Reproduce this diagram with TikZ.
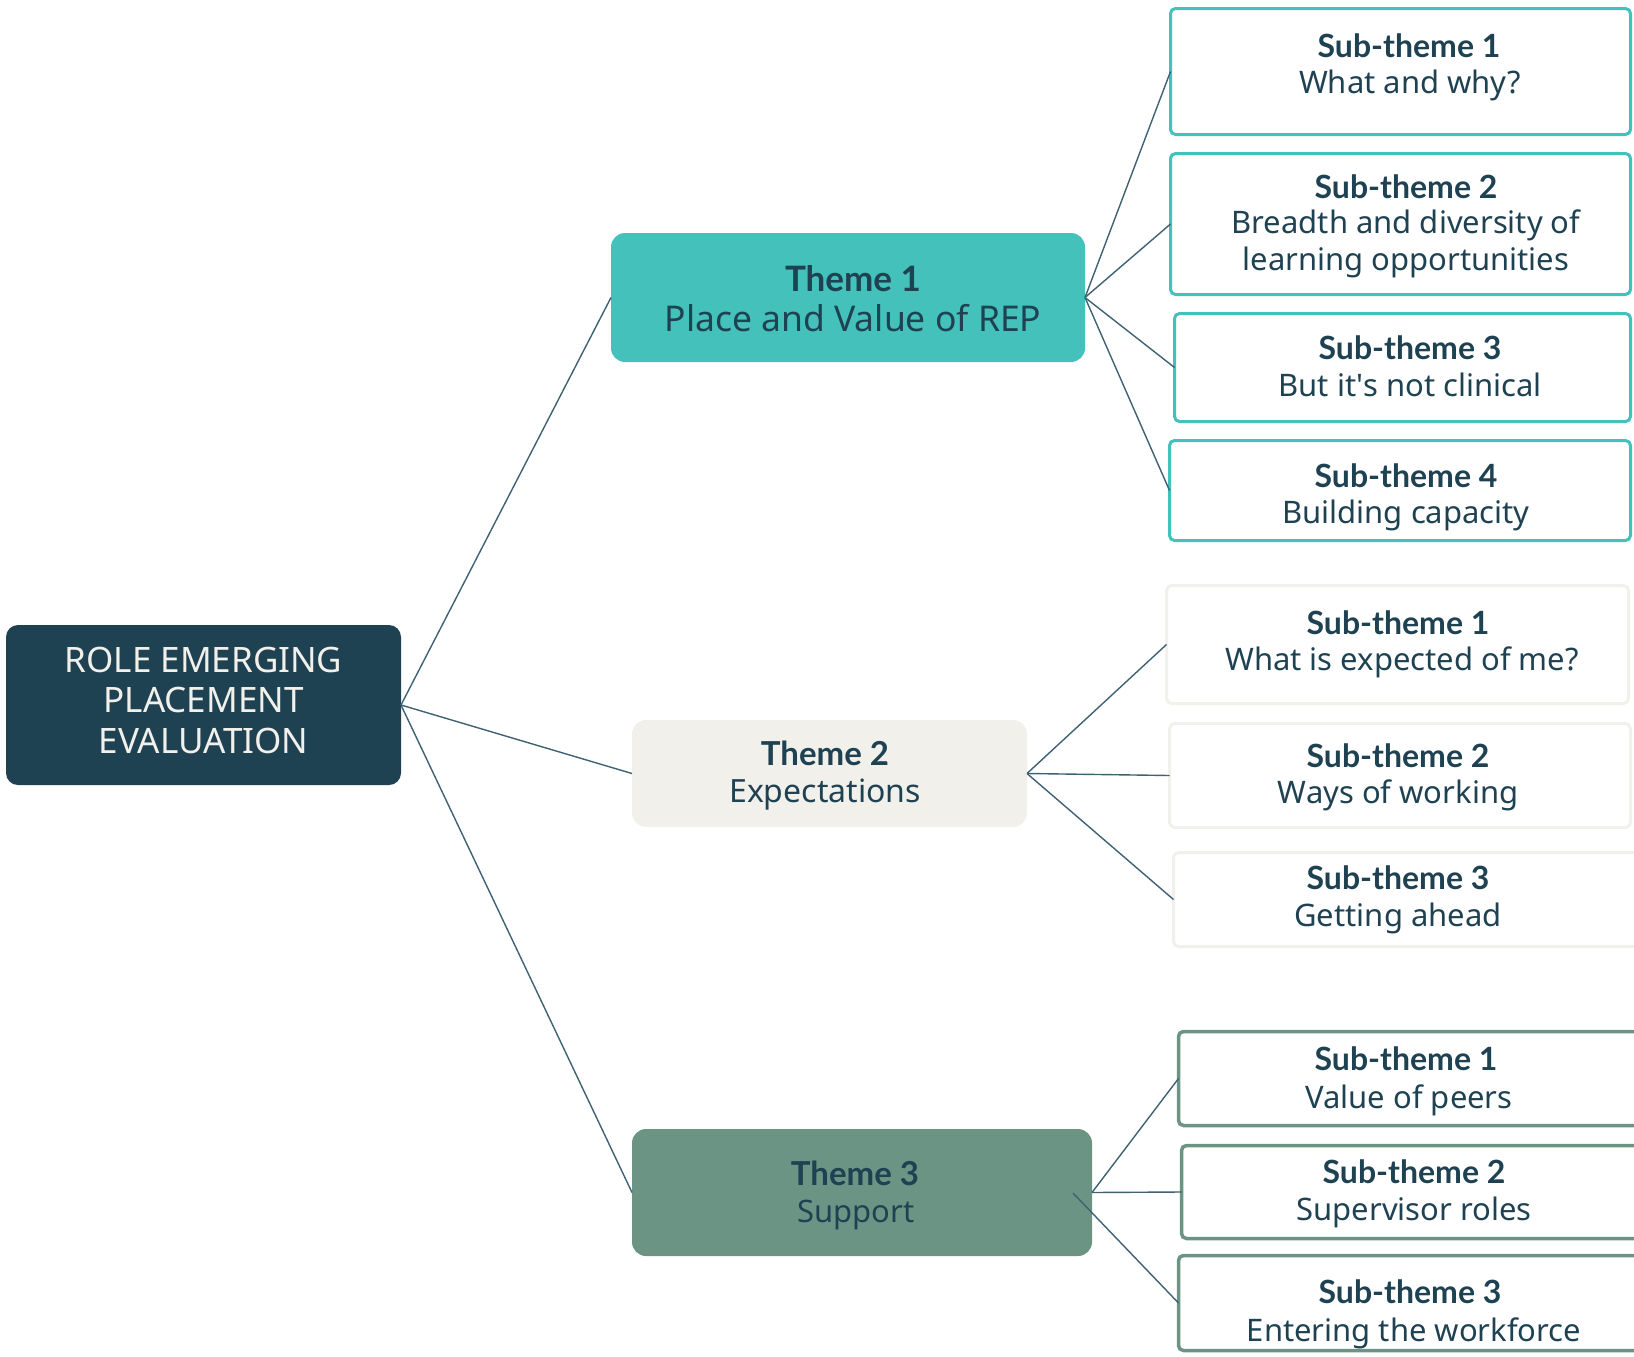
\documentclass[tikz,border=0pt]{standalone}
\usepackage{fontspec}
\setmainfont{Noto Sans}
\newfontfamily\headfont{Lato}
\definecolor{dark}{HTML}{1F4253}
\definecolor{teal}{HTML}{43C1BA}
\definecolor{pale}{HTML}{F1F0EB}
\definecolor{sage}{HTML}{6C9484}
\definecolor{wire}{HTML}{3E6173}
\begin{document}
\begin{tikzpicture}[x=1pt,y=-1pt,
  box/.style={rectangle, inner sep=0pt, outer sep=0pt, anchor=center},
  rootbox/.style={box, fill=dark, rounded corners=12pt},
  themeone/.style={box, fill=teal, rounded corners=14pt},
  themetwo/.style={box, fill=pale, rounded corners=14pt},
  themethree/.style={box, fill=sage, rounded corners=14pt},
  subone/.style={box, draw=teal, line width=3pt, fill=white, rounded corners=5pt},
  subtwo/.style={box, draw=pale, line width=3pt, fill=white, rounded corners=5pt},
  subthree/.style={box, draw=sage, line width=3.5pt, fill=white, rounded corners=5pt},
  lbl/.style={anchor=base, inner sep=0pt, outer sep=0pt, text=dark},
  roottxt/.style={lbl, text=pale, font=\fontsize{35}{35}\selectfont},
  thhead/.style={lbl, font=\headfont\fontsize{33}{33}\selectfont\bfseries},
  thline/.style={lbl, font=\fontsize{32}{32}\selectfont},
  subhead/.style={lbl, font=\headfont\fontsize{32}{32}\selectfont\bfseries},
  subline/.style={lbl, font=\fontsize{31}{31}\selectfont},
  wirestyle/.style={draw=wire, line width=1.4pt}
]
\useasboundingbox (0,0) rectangle (1634,1357);
\clip (0,0) rectangle (1634,1357);

% root
\node[rootbox, minimum width=395pt, minimum height=160pt] (root) at (203.5,705) {};
\node[roottxt] (r1) at (203.5,672) {ROLE EMERGING};
\node[roottxt] (r2) at (203.5,712) {PLACEMENT};
\node[roottxt] (r3) at (203.5,753) {EVALUATION};

% themes
\node[themeone, minimum width=474pt, minimum height=129pt] (t1) at (848,297.5) {};
\node[thhead, font=\headfont\fontsize{35}{35}\selectfont\bfseries] (t1a) at (853,291) {Theme 1};
\node[thline, font=\fontsize{35.5}{35.5}\selectfont] (t1b) at (853,331) {Place and Value of REP};

\node[themetwo, minimum width=395pt, minimum height=107pt] (t2) at (829.5,773.5) {};
\node[thhead] (t2a) at (825,765) {Theme 2};
\node[thline] (t2b) at (825,802) {Expectations};

\node[themethree, minimum width=460pt, minimum height=127pt] (t3) at (862,1192.5) {};
\node[thhead] (t3a) at (855,1185) {Theme 3};
\node[thline, font=\fontsize{31}{31}\selectfont] (t3b) at (856,1222) {Support};

% theme 1 subs
\node[subone, minimum width=460pt, minimum height=126pt] (s11) at (1400.5,71.5) {};
\node[subhead] (s11a) at (1409,57) {Sub-theme 1};
\node[subline] (s11b) at (1410,93) {What and why?};

\node[subone, minimum width=460pt, minimum height=141pt] (s12) at (1400.5,224) {};
\node[subhead] (s12a) at (1406,198) {Sub-theme 2};
\node[subline] (s12b) at (1406,233) {Breadth and diversity of};
\node[subline] (s12c) at (1406,270) {learning opportunities};

\node[subone, minimum width=456pt, minimum height=108pt] (s13) at (1402.5,367.5) {};
\node[subhead] (s13a) at (1410,359) {Sub-theme 3};
\node[subline] (s13b) at (1410,396) {But it\textquotesingle s not clinical};

\node[subone, minimum width=461pt, minimum height=100pt] (s14) at (1400,490.5) {};
\node[subhead] (s14a) at (1406,487) {Sub-theme 4};
\node[subline] (s14b) at (1406,523) {Building capacity};

% theme 2 subs
\node[subtwo, minimum width=462pt, minimum height=118pt] (s21) at (1397.5,644.5) {};
\node[subhead] (s21a) at (1398,634) {Sub-theme 1};
\node[subline] (s21b) at (1402,670) {What is expected of me?};

\node[subtwo, minimum width=461pt, minimum height=104pt] (s22) at (1400,775.5) {};
\node[subhead] (s22a) at (1398,767) {Sub-theme 2};
\node[subline] (s22b) at (1398,803) {Ways of working};

\node[subtwo, minimum width=490pt, minimum height=94pt] (s23) at (1418.5,899.5) {};
\node[subhead] (s23a) at (1398,889) {Sub-theme 3};
\node[subline] (s23b) at (1398,926) {Getting ahead};

% theme 3 subs
\node[subthree, minimum width=500pt, minimum height=94pt] (s31) at (1428.5,1078.5) {};
\node[subhead] (s31a) at (1406,1070) {Sub-theme 1};
\node[subline] (s31b) at (1409,1108) {Value of peers};

\node[subthree, minimum width=497pt, minimum height=93pt] (s32) at (1430,1192) {};
\node[subhead] (s32a) at (1414,1183) {Sub-theme 2};
\node[subline] (s32b) at (1414,1220) {Supervisor roles};

\node[subthree, minimum width=500pt, minimum height=95pt] (s33) at (1428.5,1303) {};
\node[subhead] (s33a) at (1410,1303) {Sub-theme 3};
\node[subline] (s33b) at (1414,1341) {Entering the workforce};

% connectors
\coordinate (t3in) at (1073,1193);
\draw[wirestyle] (root.east) -- (t1.west);
\draw[wirestyle] (root.east) -- (t2.west);
\draw[wirestyle] (root.east) -- (t3.west);
\draw[wirestyle] (t1.east) -- (s11.west);
\draw[wirestyle] (t1.east) -- (s12.west);
\draw[wirestyle] (t1.east) -- (s13.west);
\draw[wirestyle] (t1.east) -- (s14.west);
\draw[wirestyle] (t2.east) -- (s21.west);
\draw[wirestyle] (t2.east) -- (s22.west);
\draw[wirestyle] (t2.east) -- (s23.west);
\draw[wirestyle] (t3.east) -- (s31.west);
\draw[wirestyle] (t3.east) -- (s32.west);
\draw[wirestyle] (t3in) -- (s33.west);
\end{tikzpicture}
\end{document}
